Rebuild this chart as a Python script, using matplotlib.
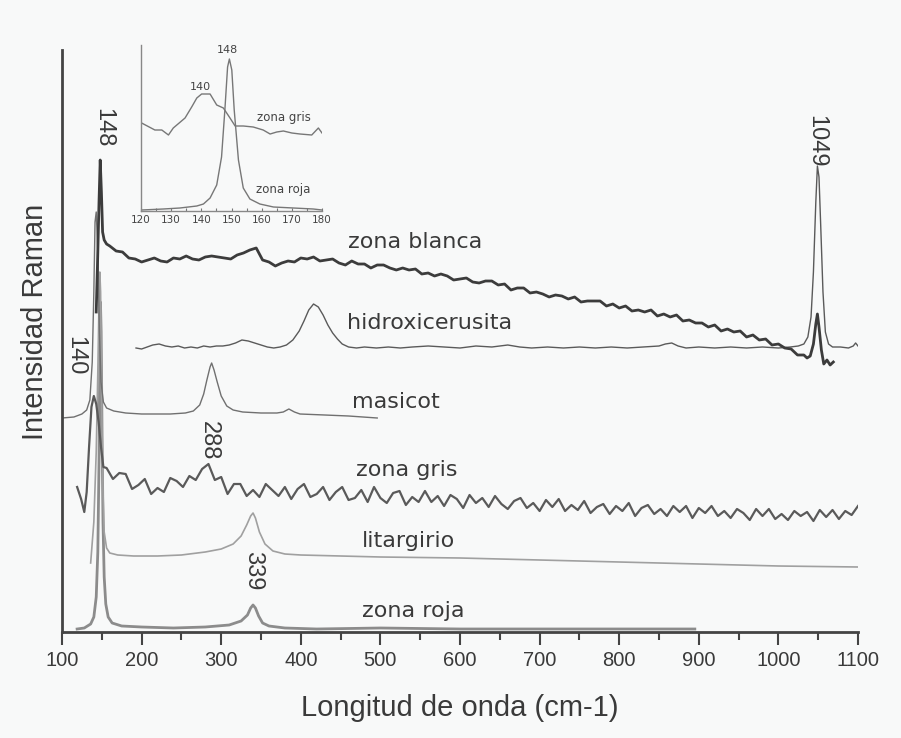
import numpy as np
import matplotlib.pyplot as plt
from matplotlib.ticker import MultipleLocator

# ---- data (y = offset intensity, arbitrary units stacked as in the figure) ----
blanca_head_x = [143, 145, 146.5, 148, 149.5, 151, 153, 156]
blanca_head_y = [320, 380, 430, 472, 440, 400, 392, 388]
blanca_x = np.arange(160, 1033, 8)
blanca_y = [386, 381, 380, 374, 373, 370, 372, 374, 371, 370, 374, 373, 376, 373, 372, 375,
            376, 375, 374, 373, 377, 379, 382, 384, 372, 370, 366, 369, 371, 370, 374, 373,
            375, 371, 372, 373, 369, 367, 371, 368, 368, 364, 367, 367, 364, 362, 364, 362,
            363, 358, 359, 356, 358, 356, 352, 353, 354, 350, 349, 351, 351, 347, 348, 342,
            344, 344, 339, 340, 338, 335, 337, 336, 333, 335, 330, 331, 331, 331, 326, 328,
            324, 326, 321, 322, 320, 322, 316, 318, 315, 317, 311, 312, 309, 309, 305, 307,
            301, 303, 300, 301, 295, 297, 292, 293, 287, 288, 284, 283, 277, 277]
blanca_tail_x = [1036, 1040, 1044, 1047, 1049, 1051, 1054, 1057, 1061, 1065, 1069]
blanca_tail_y = [274, 276, 288, 308, 318, 305, 282, 268, 272, 267, 270]

hidroxi_x = [193, 200, 207, 214, 222, 230, 238, 246, 254, 262, 270, 278, 286, 294, 302, 310,
             318, 326, 334, 342, 350, 358, 366, 374, 382, 390, 398, 404, 410, 416, 422, 428,
             434, 440, 446, 452, 460, 470, 480, 495, 510, 525, 540, 560, 580, 600, 620, 640,
             660, 675, 690, 710, 730, 750, 770, 790, 810, 830, 850, 858, 866, 874, 884, 900,
             920, 940, 960, 980, 1000, 1015, 1025, 1032, 1037, 1041, 1044, 1047, 1049, 1051,
             1053, 1056, 1059, 1063, 1068, 1078, 1088, 1094, 1097, 1100]
hidroxi_y = [284, 283, 285, 287, 288, 286, 285, 286, 284, 285, 284, 286, 285, 286, 286, 287,
             289, 292, 291, 289, 287, 285, 284, 285, 287, 292, 301, 311, 322, 328, 325, 317,
             307, 299, 293, 288, 285, 284, 285, 284, 285, 284, 285, 286, 285, 284, 286, 285,
             287, 285, 284, 285, 284, 285, 284, 285, 284, 285, 286, 288, 289, 286, 284, 285,
             284, 285, 284, 285, 284, 285, 286, 288, 295, 315, 360, 430, 466, 455,
             410, 340, 300, 288, 285, 285, 284, 286, 289, 286]

masicot_x = [100, 115, 125, 131, 135, 138, 140, 141.5, 143, 145, 147, 149, 152, 156, 165, 180,
             200, 236, 255, 265, 273, 278, 282, 286, 288, 291, 295, 300, 307, 315, 327, 350,
             370, 378, 385, 392, 399, 430, 460, 496]
masicot_y = [214, 215, 218, 222, 232, 270, 340, 410, 420, 380, 300, 250, 230, 224, 221, 219,
             218, 218, 219, 221, 227, 238, 252, 265, 269, 262, 250, 236, 226, 222, 220, 219,
             219, 220, 223, 220, 218, 217, 216, 214]

gris_head_x = [119, 124, 128, 131, 134, 137, 140, 143, 146, 149, 152]
gris_head_y = [145, 133, 120, 140, 185, 225, 236, 228, 210, 185, 165]
gris_x = np.arange(156, 1101, 8)
gris_y = [164, 153, 159, 158, 143, 147, 153, 138, 144, 140, 154, 151, 145, 156, 152, 163,
          168, 152, 155, 138, 148, 148, 136, 142, 135, 148, 142, 136, 145, 133, 143, 148,
          135, 138, 145, 132, 140, 145, 132, 134, 142, 130, 145, 134, 129, 139, 141, 127,
          135, 130, 141, 130, 136, 126, 137, 133, 124, 137, 129, 134, 125, 136, 128, 123,
          131, 134, 124, 129, 121, 132, 125, 133, 121, 127, 122, 131, 119, 125, 128, 118,
          126, 121, 129, 116, 124, 127, 118, 123, 116, 126, 120, 126, 114, 124, 119, 126,
          116, 121, 114, 123, 119, 112, 123, 116, 123, 113, 118, 112, 121, 116, 120, 111,
          122, 115, 122, 113, 121, 117, 126]

lit_x = [136, 140, 143, 145, 146.5, 147.5, 148.5, 150, 151.5, 153, 156, 160, 170, 190, 220,
         250, 280, 300, 315, 325, 332, 337, 340, 343, 348, 355, 365, 380, 400, 500, 600, 700,
         800, 900, 1000, 1100]
lit_y = [69, 110, 180, 260, 330, 360, 340, 220, 140, 100, 84, 79, 77, 76, 76,
         77, 80, 83, 88, 96, 107, 116, 119, 114, 100, 88, 81, 78, 77, 75, 74, 72,
         70, 68, 66, 65]

roja_x = [119, 128, 136, 140, 143, 145, 146.5, 147.5, 148.3, 149.2, 150.3, 151.5, 153, 155,
          158, 163, 175, 200, 240, 280, 310, 325, 333, 337, 340, 343, 347, 352, 360, 380,
          420, 500, 600, 700, 800, 895]
roja_y = [3, 4, 8, 15, 35, 80, 170, 280, 330, 300, 200, 110, 55, 28,
          15, 9, 6, 5, 4, 5, 7, 11, 17, 24, 27, 24, 16, 9, 6, 4,
          3, 4, 3, 3, 3, 3]

# inset (120-180 cm-1)
in_gris_x = [120.2, 124.6, 126.9, 129.1, 130.7, 134.6, 136.8, 138.5, 140.1, 142.9, 145.1,
             147.3, 149.5, 151.2, 153.9, 157.2, 160.5, 162.8, 165, 167.2, 170, 172.7,
             176.6, 178.8, 180]
in_gris_y = [88, 81, 81, 76, 83, 93, 104, 113, 117, 117, 106, 103, 93, 85, 85, 84, 81, 77,
             79, 80, 78, 77, 76, 83, 78]
in_roja_x = [120.2, 127.4, 132.9, 138.5, 140.7, 142.9, 145.1, 146.7, 147.8, 148.7, 149.3,
             150.1, 150.9, 152.3, 153.9, 156.1, 159.4, 163.9, 170.5, 177.1, 180]
in_roja_y = [1, 2, 3, 5, 7, 13, 26, 54, 101, 144, 152, 141, 101, 51, 23, 12, 7, 4, 3, 2, 1]

names = ["zona blanca", "hidroxicerusita", "masicot", "zona gris", "litargirio", "zona roja"]
name_xy = [(459, 390), (458, 309), (464, 230), (469, 162), (477, 91), (477, 21)]
peaks = ["148", "140", "288", "339", "1049"]
peak_xy = [(152, 504), (117, 276), (285, 191), (340, 61), (1048, 491)]

bg = "#f8f9f9"
txt = "#3a3a3a"
sans = ["Liberation Sans", "DejaVu Sans"]

fig = plt.figure(figsize=(9.01, 7.38), dpi=100, facecolor=bg)
ax = fig.add_axes([62/901, 106/738, 796/901, 582/738], facecolor=bg)

ax.plot(roja_x, roja_y, color="#8c8c8c", lw=2)
ax.plot(lit_x, lit_y, color="#a0a0a0", lw=1.2)
ax.plot(gris_head_x + list(gris_x), gris_head_y + gris_y, color="#5a5a5a", lw=1.6)
ax.plot(masicot_x, masicot_y, color="#707070", lw=1)
ax.plot(hidroxi_x, hidroxi_y, color="#5a5a5a", lw=1)
ax.plot(blanca_head_x + list(blanca_x) + blanca_tail_x,
        blanca_head_y + blanca_y + blanca_tail_y, color="#3c3c3c", lw=2)

for s, (x, y) in zip(names, name_xy):
    ax.text(x, y, s, fontsize=16, color=txt, ha="left", va="center")
for s, (x, y) in zip(peaks, peak_xy):
    ax.text(x, y, s, fontsize=17, color=txt, rotation=-90, ha="center", va="center",
            family=sans)

ax.set_xlim(100, 1100)
ax.set_ylim(0, 582)
ax.set_yticks([])
ax.xaxis.set_major_locator(MultipleLocator(100))
ax.xaxis.set_minor_locator(MultipleLocator(50))
ax.tick_params(axis="x", which="major", direction="out", length=9, width=1.5,
               color="#444444", pad=5, labelsize=14.5, labelcolor=txt)
ax.tick_params(axis="x", which="minor", direction="out", length=6, width=1.5, color="#444444")
for lab in ax.get_xticklabels():
    lab.set_family(sans)
for side in ["top", "right"]:
    ax.spines[side].set_visible(False)
for side in ["left", "bottom"]:
    ax.spines[side].set_color("#444444")
    ax.spines[side].set_linewidth(2)

fig.text(460/901, 1 - 708/738, "Longitud de onda (cm-1)", fontsize=21, color=txt,
         ha="center", va="center", family=sans)
fig.text(35/901, 1 - 322/738, "Intensidad Raman", fontsize=21, color=txt, rotation=90,
         ha="center", va="center", family=sans)

# inset
ins = fig.add_axes([141/901, 527/738, 181/901, 166/738], facecolor=bg)
ins.plot(in_gris_x, in_gris_y, color="#777777", lw=1)
ins.plot(in_roja_x, in_roja_y, color="#777777", lw=1)
ins.set_xlim(120, 180)
ins.set_ylim(0, 166)
ins.set_yticks([])
ins.xaxis.set_major_locator(MultipleLocator(10))
ins.xaxis.set_minor_locator(MultipleLocator(5))
ins.tick_params(axis="x", which="both", direction="in", length=2, width=0.8,
                color="#777777", pad=3, labelsize=7.5, labelcolor="#444444")
for side in ["top", "right"]:
    ins.spines[side].set_visible(False)
for side in ["left", "bottom"]:
    ins.spines[side].set_color("#888888")
    ins.spines[side].set_linewidth(1)
ins.text(148.8, 161, "148", fontsize=8, color="#444444", ha="center", va="center")
ins.text(139.6, 124, "140", fontsize=8, color="#444444", ha="center", va="center")
ins.text(158.4, 94, "zona gris", fontsize=8.5, color="#444444", ha="left", va="center")
ins.text(158.1, 21, "zona roja", fontsize=8.5, color="#444444", ha="left", va="center")

fig.savefig("out.png", dpi=100, facecolor=bg)
